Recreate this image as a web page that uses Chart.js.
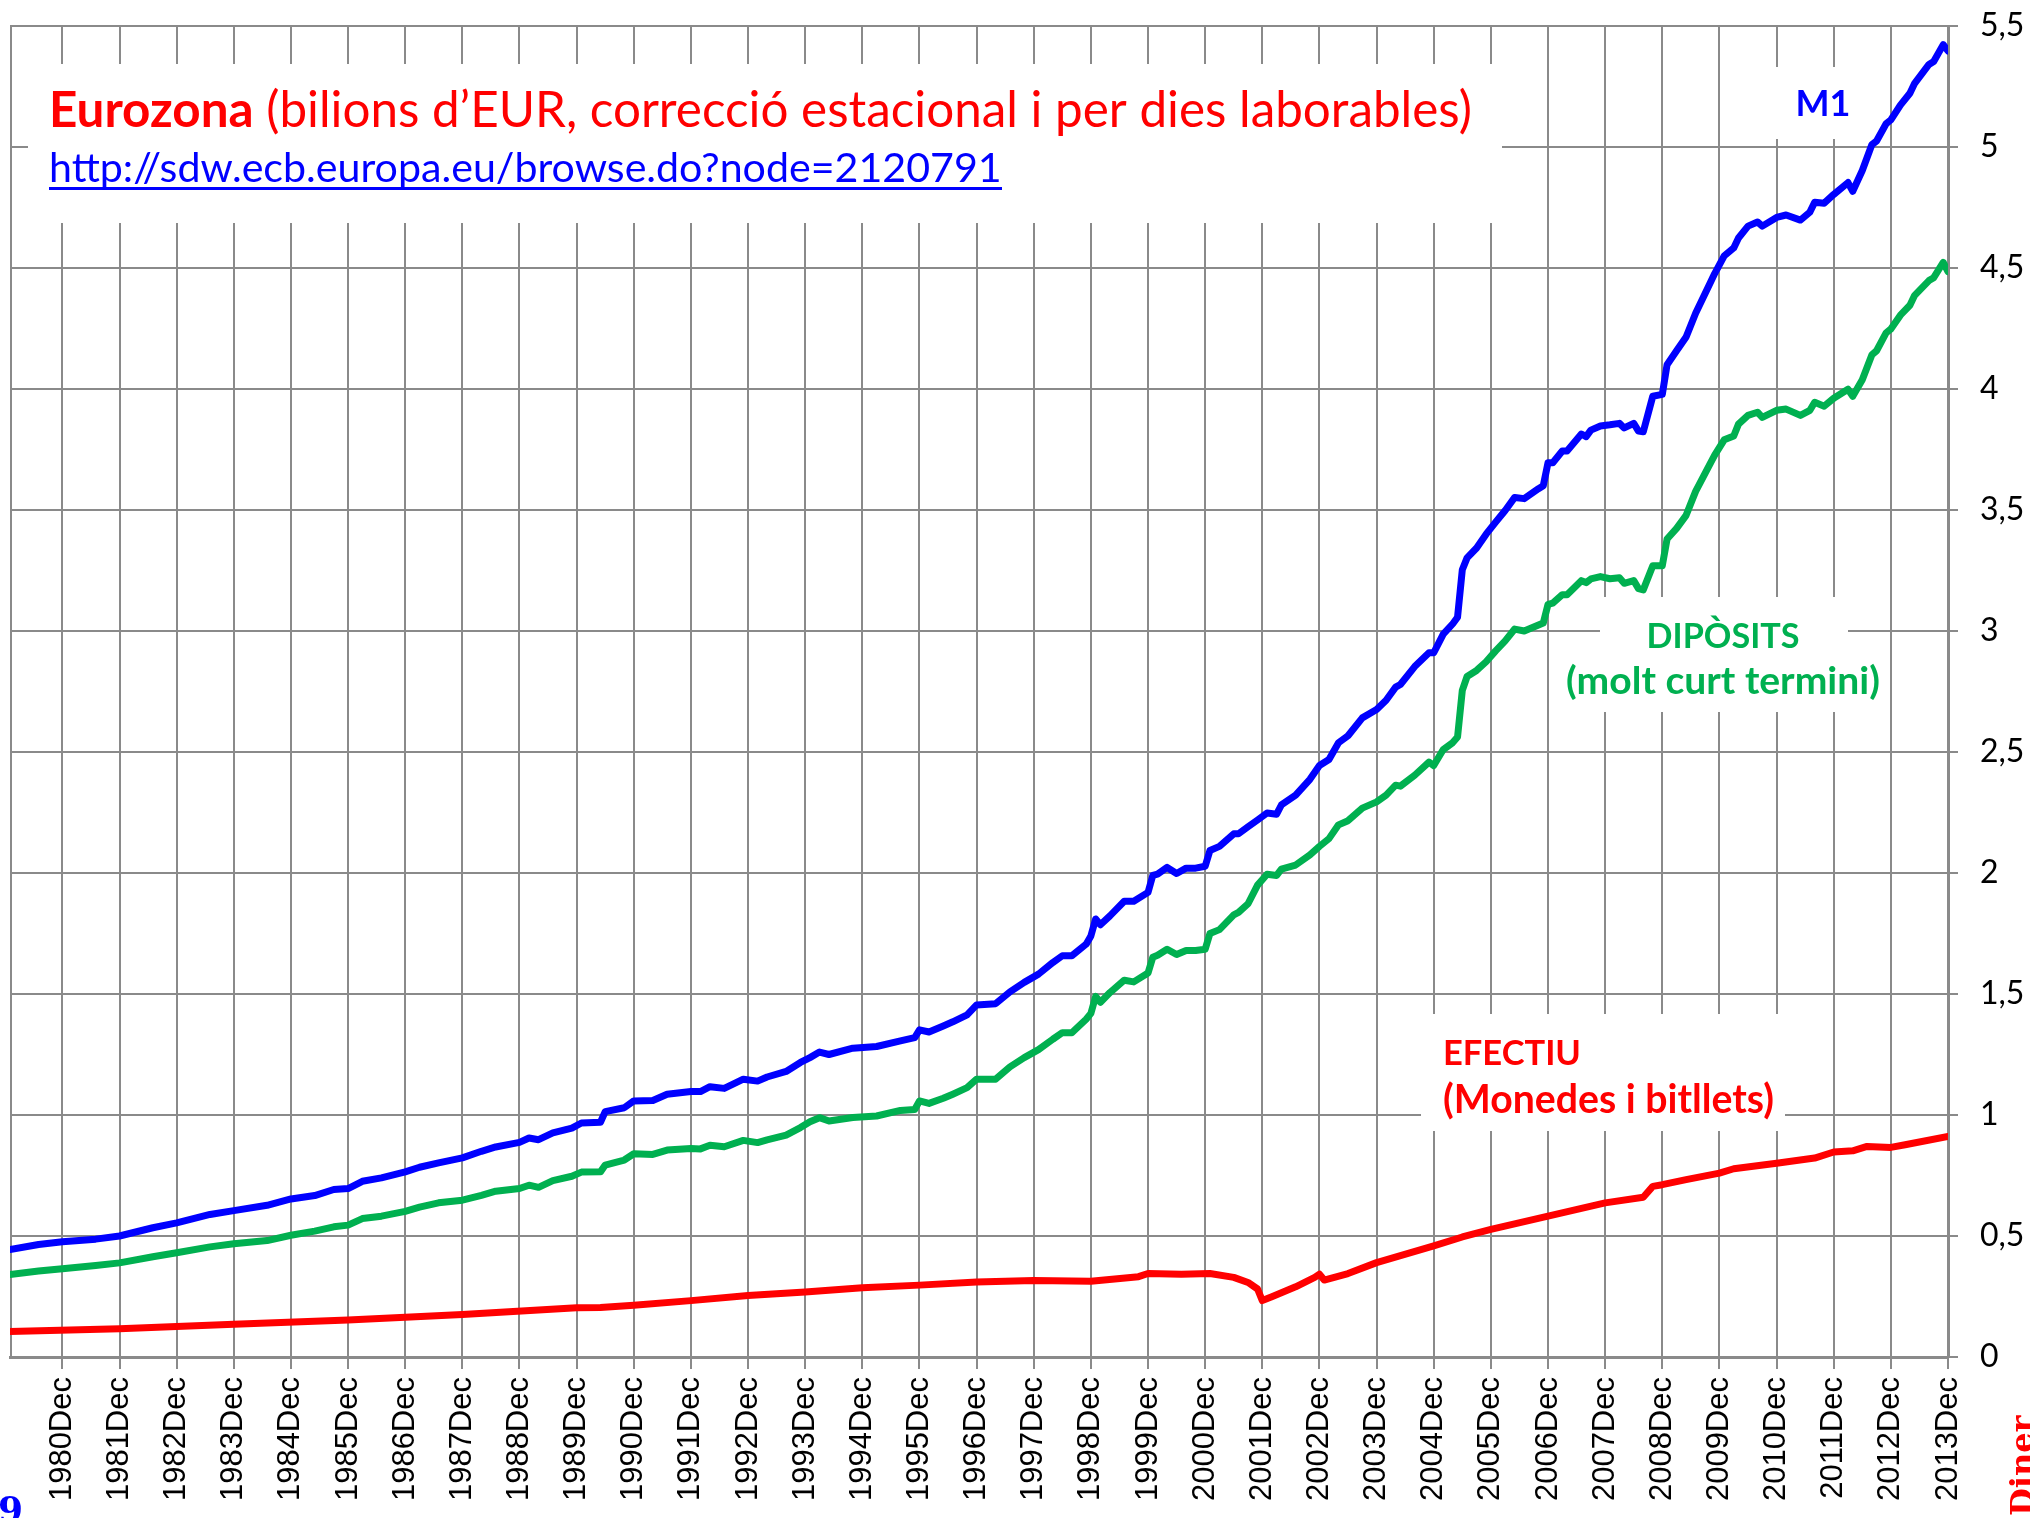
<!DOCTYPE html>
<html>
<head>
<meta charset="utf-8">
<script src="https://cdn.jsdelivr.net/npm/chart.js@4"></script>
<style>
  body { margin: 0; background: #fff; }
  canvas { display: block; }
</style>
</head>
<body>
<canvas id="grafic" width="2030" height="1518"></canvas>
<script>
// ========== Dades ==========

// Mesos de lectura (M1 i dipòsits comparteixen els mateixos mesos)
const mesosM1 = [
  '1980-01', '1980-07', '1980-12', '1981-07', '1981-12', '1982-07', '1982-12',
  '1983-07', '1983-12', '1984-07', '1984-12', '1985-05', '1985-09', '1985-12',
  '1986-03', '1986-07', '1986-12', '1987-03', '1987-07', '1987-12', '1988-04',
  '1988-07', '1988-12', '1989-02', '1989-04', '1989-07', '1989-11', '1990-01',
  '1990-05', '1990-06', '1990-10', '1990-12', '1991-04', '1991-07', '1991-12',
  '1992-02', '1992-04', '1992-07', '1992-11', '1993-02', '1993-04', '1993-08',
  '1993-11', '1994-01', '1994-03', '1994-05', '1994-10', '1995-03', '1995-08',
  '1995-11', '1995-12', '1996-02', '1996-05', '1996-07', '1996-10', '1996-12',
  '1997-04', '1997-07', '1997-10', '1998-01', '1998-04', '1998-06', '1998-08',
  '1998-11', '1998-12', '1999-01', '1999-02', '1999-04', '1999-07', '1999-09',
  '1999-12', '2000-01', '2000-02', '2000-04', '2000-06', '2000-08', '2000-10',
  '2000-12', '2001-01', '2001-03', '2001-06', '2001-07', '2001-09', '2001-11',
  '2002-01', '2002-03', '2002-04', '2002-07', '2002-10', '2002-12', '2003-02',
  '2003-04', '2003-06', '2003-09', '2003-12', '2004-02', '2004-04', '2004-05',
  '2004-08', '2004-11', '2004-12', '2005-02', '2005-04', '2005-05', '2005-06',
  '2005-07', '2005-09', '2005-11', '2006-01', '2006-03', '2006-05', '2006-07',
  '2006-10', '2006-11', '2006-12', '2007-01', '2007-03', '2007-04', '2007-07',
  '2007-08', '2007-09', '2007-11', '2008-01', '2008-03', '2008-04', '2008-06',
  '2008-07', '2008-08', '2008-10', '2008-12', '2009-01', '2009-03', '2009-05',
  '2009-07', '2009-10', '2009-11', '2010-01', '2010-03', '2010-04', '2010-06',
  '2010-08', '2010-09', '2010-12', '2011-02', '2011-05', '2011-07', '2011-08',
  '2011-10', '2011-12', '2012-03', '2012-04', '2012-06', '2012-08', '2012-09',
  '2012-11', '2012-12', '2013-02', '2013-04', '2013-05', '2013-08', '2013-09',
  '2013-11', '2013-12'
];

const valorsM1 = [
  0.444, 0.465, 0.476, 0.487, 0.500, 0.534, 0.554,
  0.589, 0.605, 0.627, 0.653, 0.667, 0.692, 0.696,
  0.726, 0.740, 0.765, 0.784, 0.802, 0.823, 0.850,
  0.868, 0.887, 0.905, 0.898, 0.926, 0.946, 0.967,
  0.970, 1.014, 1.030, 1.058, 1.060, 1.086, 1.097,
  1.097, 1.117, 1.110, 1.148, 1.140, 1.157, 1.180,
  1.217, 1.237, 1.260, 1.250, 1.276, 1.283, 1.306,
  1.320, 1.352, 1.343, 1.368, 1.385, 1.414, 1.455,
  1.460, 1.509, 1.548, 1.582, 1.630, 1.658, 1.658,
  1.706, 1.740, 1.810, 1.786, 1.823, 1.883, 1.883,
  1.920, 1.990, 1.995, 2.023, 1.998, 2.020, 2.020,
  2.028, 2.093, 2.110, 2.162, 2.162, 2.191, 2.219,
  2.248, 2.243, 2.281, 2.322, 2.387, 2.444, 2.469,
  2.538, 2.567, 2.641, 2.676, 2.714, 2.768, 2.779,
  2.853, 2.910, 2.910, 2.987, 3.030, 3.057, 3.253,
  3.302, 3.343, 3.400, 3.450, 3.498, 3.552, 3.547,
  3.588, 3.600, 3.695, 3.695, 3.744, 3.744, 3.814,
  3.803, 3.830, 3.847, 3.852, 3.858, 3.839, 3.858,
  3.826, 3.823, 3.970, 3.978, 4.100, 4.158, 4.215,
  4.313, 4.436, 4.477, 4.550, 4.583, 4.624, 4.673,
  4.690, 4.673, 4.709, 4.719, 4.698, 4.731, 4.772,
  4.768, 4.804, 4.853, 4.817, 4.903, 5.009, 5.025,
  5.096, 5.112, 5.173, 5.222, 5.263, 5.341, 5.353,
  5.423, 5.397
];

const valorsDiposits = [
  0.341, 0.355, 0.365, 0.378, 0.389, 0.414, 0.431,
  0.455, 0.468, 0.481, 0.503, 0.520, 0.538, 0.545,
  0.572, 0.582, 0.602, 0.619, 0.637, 0.648, 0.668,
  0.685, 0.696, 0.710, 0.701, 0.729, 0.747, 0.764,
  0.765, 0.793, 0.814, 0.840, 0.837, 0.855, 0.862,
  0.860, 0.875, 0.869, 0.895, 0.886, 0.897, 0.917,
  0.948, 0.972, 0.989, 0.975, 0.990, 0.996, 1.019,
  1.023, 1.058, 1.048, 1.069, 1.086, 1.113, 1.148,
  1.148, 1.199, 1.237, 1.270, 1.313, 1.340, 1.340,
  1.396, 1.420, 1.490, 1.466, 1.506, 1.557, 1.550,
  1.587, 1.652, 1.660, 1.685, 1.663, 1.680, 1.680,
  1.685, 1.750, 1.766, 1.827, 1.837, 1.873, 1.950,
  1.995, 1.990, 2.016, 2.033, 2.075, 2.110, 2.142,
  2.199, 2.216, 2.268, 2.294, 2.322, 2.363, 2.359,
  2.404, 2.458, 2.444, 2.510, 2.539, 2.562, 2.755,
  2.812, 2.837, 2.873, 2.918, 2.959, 3.008, 3.000,
  3.025, 3.033, 3.110, 3.115, 3.150, 3.150, 3.208,
  3.200, 3.215, 3.225, 3.216, 3.220, 3.197, 3.208,
  3.175, 3.170, 3.270, 3.270, 3.380, 3.424, 3.478,
  3.577, 3.690, 3.727, 3.790, 3.806, 3.855, 3.891,
  3.904, 3.883, 3.912, 3.917, 3.891, 3.912, 3.945,
  3.929, 3.962, 3.999, 3.970, 4.038, 4.141, 4.158,
  4.232, 4.248, 4.305, 4.346, 4.387, 4.448, 4.460,
  4.523, 4.485
];

const mesosEfectiu = [
  '1980-01', '1981-12', '1983-12', '1985-12', '1987-12', '1989-12', '1990-05',
  '1990-12', '1991-12', '1992-12', '1993-12', '1994-12', '1995-12', '1996-12',
  '1997-12', '1998-12', '1999-10', '1999-12', '2000-07', '2001-01', '2001-06',
  '2001-09', '2001-11', '2001-12', '2002-02', '2002-07', '2002-11', '2002-12',
  '2003-01', '2003-06', '2003-12', '2004-12', '2005-06', '2005-12', '2006-12',
  '2007-12', '2008-08', '2008-10', '2008-12', '2009-05', '2009-12', '2010-03',
  '2010-12', '2011-08', '2011-12', '2012-04', '2012-07', '2012-12', '2013-03',
  '2013-12'
];

const valorsEfectiu = [
  0.105, 0.117, 0.135, 0.153, 0.176, 0.204, 0.205,
  0.214, 0.233, 0.254, 0.269, 0.286, 0.297, 0.310,
  0.316, 0.313, 0.332, 0.345, 0.342, 0.345, 0.329,
  0.308, 0.281, 0.233, 0.249, 0.290, 0.329, 0.342,
  0.318, 0.345, 0.390, 0.459, 0.496, 0.527, 0.582,
  0.637, 0.660, 0.705, 0.712, 0.733, 0.760, 0.778,
  0.801, 0.822, 0.847, 0.852, 0.870, 0.866, 0.877,
  0.911
];

const etiquetesX = [
  '1980Dec', '1981Dec', '1982Dec', '1983Dec', '1984Dec', '1985Dec', '1986Dec',
  '1987Dec', '1988Dec', '1989Dec', '1990Dec', '1991Dec', '1992Dec', '1993Dec',
  '1994Dec', '1995Dec', '1996Dec', '1997Dec', '1998Dec', '1999Dec', '2000Dec',
  '2001Dec', '2002Dec', '2003Dec', '2004Dec', '2005Dec', '2006Dec', '2007Dec',
  '2008Dec', '2009Dec', '2010Dec', '2011Dec', '2012Dec', '2013Dec'
];

const valorsY = [0, 0.5, 1, 1.5, 2, 2.5, 3, 3.5, 4, 4.5, 5, 5.5];
const etiquetesY = ['0', '0,5', '1', '1,5', '2', '2,5', '3', '3,5', '4', '4,5', '5', '5,5'];

// ========== Utilitats ==========

// "1990-06" -> nombre de mesos des de gener de 1980
function indexMes(text) {
  const [any, mes] = text.split('-').map(Number);
  return (any - 1980) * 12 + (mes - 1);
}

function punts(mesos, valors) {
  return mesos.map((m, i) => ({ x: indexMes(m), y: valors[i] }));
}

// mida de lletra perquè un text (o trossos amb pesos diferents) faci l'amplada donada
function midaPerAmplada(ctx, trossos, familia, amplada) {
  let w = 0;
  trossos.forEach(([t, pes]) => {
    ctx.font = `${pes} 100px ${familia}`;
    w += ctx.measureText(t).width;
  });
  return 100 * amplada / w;
}

const GRIS = '#8a8a8a';
const BLAU = '#0000FF';
const VERD = '#00B050';
const VERMELL = '#FF0000';
const LLETRA = 'Lato, "Open Sans", sans-serif';

// ========== Anotacions (caixes blanques i textos) ==========

const anotacions = {
  id: 'anotacions',
  beforeDatasetsDraw(chart) {
    const ctx = chart.ctx;
    const a = chart.chartArea;
    ctx.save();
    // caixes blanques que tapen la quadrícula
    ctx.fillStyle = '#fff';
    ctx.fillRect(28, 64, 1474, 159);    // títol
    ctx.fillRect(1750, 67, 130, 72);    // M1
    ctx.fillRect(1600, 597, 248, 115);  // dipòsits
    ctx.fillRect(1421, 1014, 364, 117); // efectiu
    // vora esquerra
    ctx.strokeStyle = GRIS;
    ctx.lineWidth = 2;
    ctx.beginPath();
    ctx.moveTo(a.left + 1, a.top);
    ctx.lineTo(a.left + 1, a.bottom);
    ctx.stroke();
    ctx.restore();
  },
  afterDatasetsDraw(chart) {
    const ctx = chart.ctx;
    ctx.save();
    ctx.textBaseline = 'alphabetic';
    ctx.textAlign = 'left';

    // títol: part en negreta + part normal
    const t1 = 'Eurozona';
    const t2 = ' (bilions d\u2019EUR, correcci\u00f3 estacional i per dies laborables)';
    const mt = midaPerAmplada(ctx, [[t1, 'bold'], [t2, 'normal']], LLETRA, 1423);
    ctx.fillStyle = VERMELL;
    ctx.font = `bold ${mt}px ${LLETRA}`;
    ctx.fillText(t1, 49, 127);
    const w1 = ctx.measureText(t1).width;
    ctx.font = `normal ${mt}px ${LLETRA}`;
    ctx.fillText(t2, 49 + w1, 127);

    // enllaç
    const url = 'http://sdw.ecb.europa.eu/browse.do?node=2120791';
    const mu = midaPerAmplada(ctx, [[url, 'normal']], LLETRA, 953);
    ctx.fillStyle = BLAU;
    ctx.font = `normal ${mu}px ${LLETRA}`;
    ctx.fillText(url, 49, 182);
    ctx.fillRect(49, 187, 953, 3);

    // etiquetes de les sèries
    function etiqueta(text, color, x, y, amplada, alineacio) {
      const m = midaPerAmplada(ctx, [[text, 'bold']], LLETRA, amplada);
      ctx.font = `bold ${m}px ${LLETRA}`;
      ctx.fillStyle = color;
      ctx.textAlign = alineacio;
      ctx.fillText(text, x, y);
    }
    etiqueta('M1', BLAU, 1823, 116, 55, 'center');
    etiqueta('DIP\u00d2SITS', VERD, 1723, 648, 153, 'center');
    etiqueta('(molt curt termini)', VERD, 1723, 694, 314, 'center');
    etiqueta('EFECTIU', VERMELL, 1443, 1065, 138, 'left');
    etiqueta('(Monedes i bitllets)', VERMELL, 1443, 1113, 331, 'left');
    ctx.restore();
  },
  afterDraw(chart) {
    // restes de text retallats a les cantonades inferiors
    const ctx = chart.ctx;
    ctx.save();
    ctx.font = 'bold 36px "DejaVu Serif", serif';
    ctx.fillStyle = BLAU;
    ctx.textAlign = 'left';
    ctx.textBaseline = 'alphabetic';
    ctx.fillText('9', -2, 1522);

    ctx.translate(2033, 1516);
    ctx.rotate(-Math.PI / 2);
    ctx.font = 'bold 32px "DejaVu Serif", serif';
    ctx.fillStyle = VERMELL;
    ctx.fillText('Diner', 0, 0);
    ctx.restore();
  }
};

// ========== Gràfic ==========

function dibuixarGrafic() {
  const ctx = document.getElementById('grafic');

  new Chart(ctx, {
    type: 'line',
    data: {
      datasets: [
        {
          label: 'M1',
          data: punts(mesosM1, valorsM1),
          borderColor: BLAU,
        },
        {
          label: 'DIPÒSITS (molt curt termini)',
          data: punts(mesosM1, valorsDiposits),
          borderColor: VERD,
        },
        {
          label: 'EFECTIU (Monedes i bitllets)',
          data: punts(mesosEfectiu, valorsEfectiu),
          borderColor: VERMELL,
        },
      ],
    },
    options: {
      responsive: false,
      animation: false,
      devicePixelRatio: 1,
      layout: { padding: { left: 10, top: 26, right: 0, bottom: 0 } },
      plugins: {
        legend: { display: false },
        tooltip: { enabled: false },
      },
      elements: {
        point: { radius: 0 },
        line: {
          borderWidth: 7,
          tension: 0,
          fill: false,
          borderJoinStyle: 'round',
          borderCapStyle: 'round',
        },
      },
      scales: {
        x: {
          type: 'linear',
          min: 0,
          max: 407,
          afterBuildTicks: s => {
            s.ticks = etiquetesX.map(t => ({ value: indexMes(t.slice(0, 4) + '-12') }));
          },
          afterFit: s => {
            s.height = 161;
            s.paddingLeft = 0;
            s.paddingRight = 0;
          },
          ticks: {
            autoSkip: false,
            maxRotation: 90,
            minRotation: 90,
            padding: 8,
            color: '#000',
            font: { family: '"Liberation Sans", Arial, sans-serif', size: 31 },
            callback: (v, i) => etiquetesX[i],
          },
          grid: { color: GRIS, lineWidth: 2, tickLength: 12 },
          border: { color: GRIS, width: 3 },
        },
        y: {
          position: 'right',
          min: 0,
          max: 5.5,
          afterBuildTicks: s => {
            s.ticks = valorsY.map(v => ({ value: v }));
          },
          afterFit: s => {
            s.width = 82;
            s.paddingTop = 0;
            s.paddingBottom = 0;
          },
          ticks: {
            padding: 22,
            color: '#000',
            font: { family: LLETRA, size: 32 },
            callback: (v, i) => etiquetesY[i],
          },
          grid: { color: GRIS, lineWidth: 2, tickLength: 10 },
          border: { color: GRIS, width: 3 },
        },
      },
    },
    plugins: [anotacions],
  });
}

dibuixarGrafic();
</script>
</body>
</html>
